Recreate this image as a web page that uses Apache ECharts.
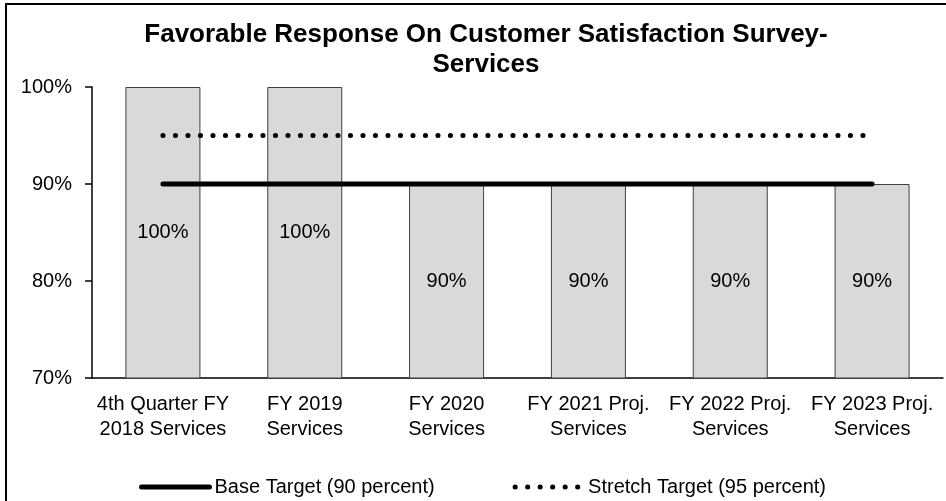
<!DOCTYPE html>
<html>
<head>
<meta charset="utf-8">
<script src="https://cdn.jsdelivr.net/npm/echarts@6/dist/echarts.min.js"></script>
<style>
  html, body { margin: 0; padding: 0; background: #fff; }
  #chart { width: 946px; height: 501px; }
</style>
</head>
<body>
<div id="chart"></div>
<script>
// categories and values
var categories = [
    '4th Quarter FY\n2018 Services',
    'FY 2019\nServices',
    'FY 2020\nServices',
    'FY 2021 Proj.\nServices',
    'FY 2022 Proj.\nServices',
    'FY 2023 Proj.\nServices'
];
var results = [100, 100, 90, 90, 90, 90];
var baseTarget = [90, 90, 90, 90, 90, 90];
var stretchTarget = [95, 95, 95, 95, 95, 95];
var yTicks = [70, 80, 90, 100];

var FONT = "'Liberation Sans', Arial, sans-serif";

var myChart = echarts.init(document.getElementById('chart'));

var option = {
    backgroundColor: '#fff',
    animation: false,
    title: {
        text: 'Favorable Response On Customer Satisfaction Survey-\nServices',
        left: 481,
        textAlign: 'center',
        top: 15,
        textStyle: {
            fontFamily: FONT,
            fontSize: 26,
            fontWeight: 'bold',
            color: '#000',
            lineHeight: 30
        }
    },
    // outer frame of the chart
    graphic: [{
        type: 'rect',
        shape: { x: 6, y: 4, width: 1000, height: 600 },
        style: { fill: null, stroke: '#000', lineWidth: 2 },
        silent: true
    }],
    legend: {
        data: ['Base Target (90 percent)', 'Stretch Target (95 percent)'],
        left: 134,
        top: 472,
        itemWidth: 68,
        itemHeight: 14,
        itemGap: 78,
        itemStyle: { opacity: 0 },   // hide the circle, keep the line
        lineStyle: { width: 5 },
        textStyle: { fontFamily: FONT, fontSize: 20, color: '#000' }
    },
    grid: {
        left: 92,
        right: 3,
        top: 87,
        bottom: 123,
        containLabel: false
    },
    xAxis: {
        type: 'category',
        data: categories,
        axisLine: { lineStyle: { color: '#000', width: 1.5 } },
        axisTick: { show: false },
        axisLabel: {
            fontFamily: FONT,
            fontSize: 20,
            color: '#000',
            lineHeight: 25,
            margin: 14,
            interval: 0
        }
    },
    yAxis: {
        type: 'value',
        min: yTicks[0],
        max: yTicks[yTicks.length - 1],
        interval: 10,
        splitLine: { show: false },
        axisLine: { show: true, lineStyle: { color: '#000', width: 1.5 } },
        axisTick: { show: true, length: 7, lineStyle: { color: '#000', width: 1.5 } },
        axisLabel: {
            fontFamily: FONT,
            fontSize: 20,
            color: '#000',
            margin: 20,
            formatter: '{value}%'
        }
    },
    series: [{
        name: 'Result',
        type: 'bar',
        data: results,
        barWidth: 75,
        itemStyle: { color: '#d9d9d9', borderColor: '#404040', borderWidth: 1 },
        label: {
            show: true,
            position: 'inside',
            fontFamily: FONT,
            fontSize: 20,
            color: '#000',
            formatter: '{c}%'
        },
        z: 1
    }, {
        name: 'Base Target (90 percent)',
        type: 'line',
        data: baseTarget,
        symbol: 'none',
        lineStyle: { color: '#000', width: 5, cap: 'round' },
        itemStyle: { color: '#000' },
        z: 3
    }, {
        name: 'Stretch Target (95 percent)',
        type: 'line',
        data: stretchTarget,
        symbol: 'none',
        lineStyle: { color: '#000', width: 5, cap: 'round', type: [0.1, 12.4] },
        itemStyle: { color: '#000' },
        z: 3
    }]
};

myChart.setOption(option);
</script>
</body>
</html>
